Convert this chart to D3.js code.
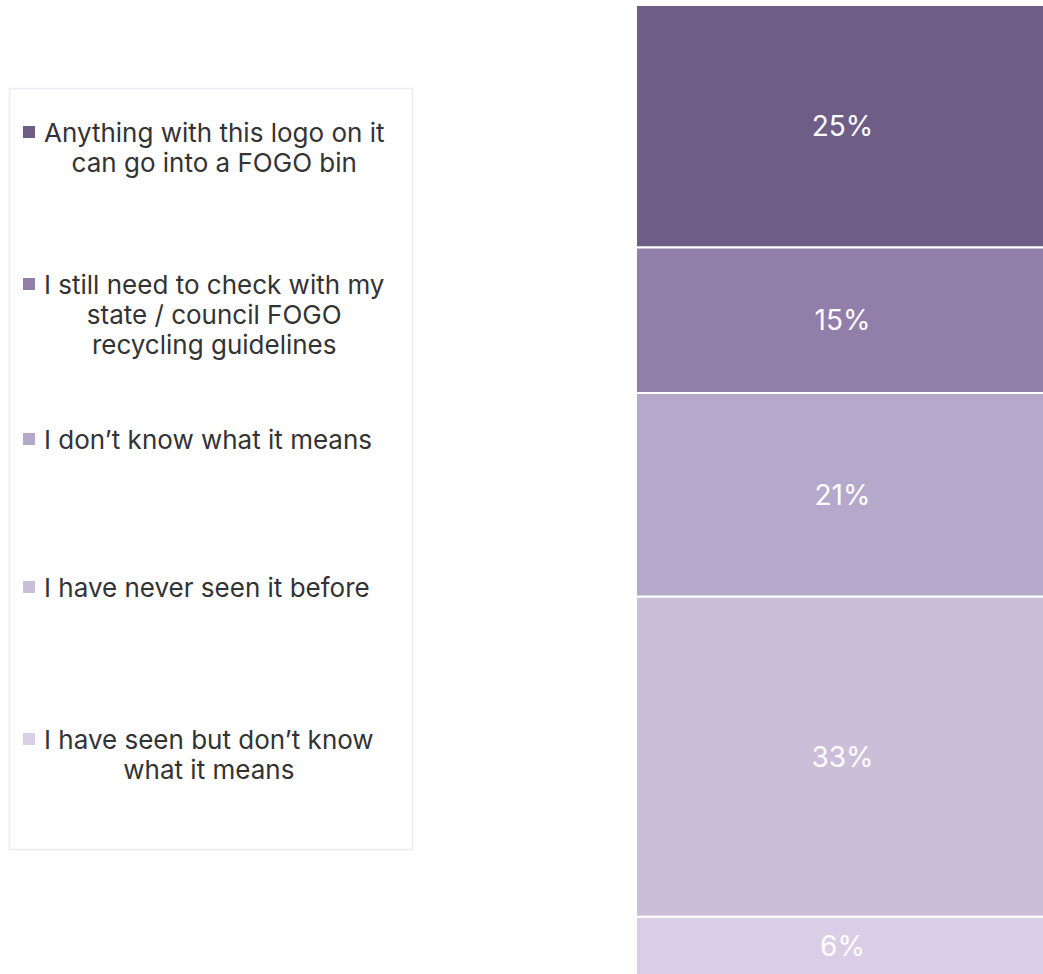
<!DOCTYPE html>
<html>
<head>
<meta charset="utf-8">
<script src="https://cdn.jsdelivr.net/npm/d3@7"></script>
<style>
  html, body { margin: 0; padding: 0; background: #fff; }
  svg { display: block; }
  text { font-family: Inter, "Noto Sans", sans-serif; }
</style>
</head>
<body>
<svg id="chart" width="1043" height="974"></svg>
<script>
// ---- data ----
const categories = [
  "Anything with this logo on it can go into a FOGO bin",
  "I still need to check with my state / council FOGO recycling guidelines",
  "I don\u2019t know what it means",
  "I have never seen it before",
  "I have seen but don\u2019t know what it means"
];
const legendLines = [
  ["Anything with this logo on it", "can go into a FOGO bin"],
  ["I still need to check with my", "state / council FOGO", "recycling guidelines"],
  ["I don\u2019t know what it means"],
  ["I have never seen it before"],
  ["I have seen but don\u2019t know", "what it means"]
];
const values = [25, 15, 21, 33, 6];
const colors = ["#6e5e87", "#917ea9", "#b4a9cb", "#cbbed8", "#dacee6"];
const legendFirstLineY = [132, 284, 439, 587, 739];

// ---- layout ----
const svg = d3.select("#chart");
const y = d3.scaleLinear().domain([0, 100]).range([5, 975]);
const x = d3.scaleBand().domain(["all"]).range([636, 1049]).padding(0);

let acc = 0;
const stack = values.map((v, i) => {
  const s = { key: categories[i], v, y0: acc, y1: acc + v, color: colors[i] };
  acc += v;
  return s;
});

const bars = svg.append("g");
bars.selectAll("rect").data(stack).join("rect")
  .attr("x", x("all"))
  .attr("width", x.bandwidth())
  .attr("y", d => y(d.y0))
  .attr("height", d => y(d.y1) - y(d.y0))
  .attr("fill", d => d.color)
  .attr("stroke", "#fff")
  .attr("stroke-width", 2);

bars.selectAll("text").data(stack).join("text")
  .attr("x", x("all") + x.bandwidth() / 2)
  .attr("y", d => (y(d.y0) + y(d.y1)) / 2)
  .attr("text-anchor", "middle")
  .attr("dominant-baseline", "central")
  .attr("fill", "#ffffff")
  .attr("font-size", 28)
  .text(d => d.v + "%");

// ---- legend ----
const lg = svg.append("g");
lg.append("rect")
  .attr("x", 9.5).attr("y", 88.5)
  .attr("width", 403).attr("height", 761)
  .attr("fill", "#fff")
  .attr("stroke", "#ebebf3")
  .attr("stroke-width", 1.5);

const lineH = 30;
legendLines.forEach((lines, i) => {
  const g = lg.append("g");
  const cy = legendFirstLineY[i];
  g.append("rect")
    .attr("x", 23).attr("y", cy - 6)
    .attr("width", 12).attr("height", 12)
    .attr("fill", colors[i]);
  const texts = g.selectAll("text").data(lines).join("text")
    .attr("y", (d, j) => cy + j * lineH)
    .attr("dominant-baseline", "central")
    .attr("text-anchor", "middle")
    .attr("fill", "#333333")
    .attr("font-size", 26)
    .text(d => d);
  let w = 0;
  texts.each(function () { w = Math.max(w, this.getComputedTextLength()); });
  texts.attr("x", 44 + w / 2);
});
</script>
</body>
</html>
